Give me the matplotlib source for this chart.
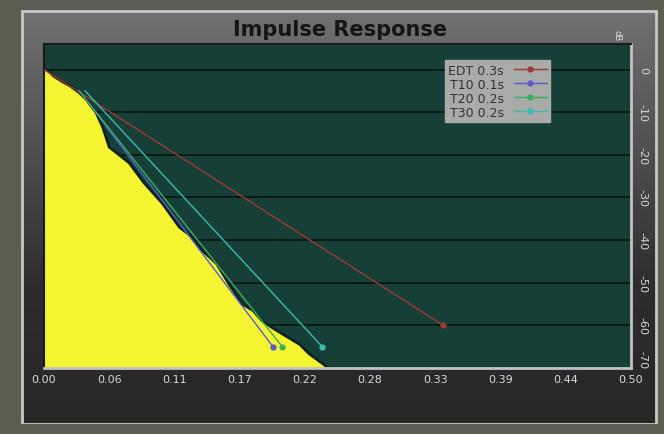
import matplotlib
matplotlib.use("Agg")
import matplotlib.pyplot as plt
import numpy as np
from matplotlib.patches import Rectangle
from matplotlib.colors import LinearSegmentedColormap

# Decay curve (time s, level dB)
decay_t = [0.0, 0.0026, 0.008, 0.0154, 0.022, 0.030, 0.036, 0.0444, 0.050, 0.0556,
           0.064, 0.0726, 0.085, 0.1009, 0.1154, 0.125, 0.135, 0.147, 0.158,
           0.169, 0.178, 0.186, 0.197, 0.209, 0.218, 0.226, 0.238, 0.242]
decay_db = [0.0, 0.0, -1.5, -2.8, -3.8, -5.4, -7.0, -10.1, -13.5, -18.2,
            -20.0, -21.9, -26.5, -31.4, -37.0, -39.0, -42.5, -45.5, -50.5,
            -55.0, -56.5, -59.0, -61.0, -63.0, -64.5, -66.7, -69.1, -70.0]

# Fitted lines: (start_t, start_db, end_t, end_db)
fit_names = ["EDT 0.3s", "T10 0.1s", "T20 0.2s", "T30 0.2s"]
fit_t0 = [0.0, 0.030, 0.030, 0.035]
fit_db0 = [0.0, -5.0, -5.0, -5.0]
fit_t1 = [0.340, 0.195, 0.203, 0.237]
fit_db1 = [-60.0, -65.0, -65.0, -65.0]
fit_colors = ["#9c3a34", "#5a5ad0", "#3cae60", "#3cbcb0"]

xticks = np.linspace(0, 0.5, 10)
xticklabels = ["0.00", "0.06", "0.11", "0.17", "0.22", "0.28", "0.33", "0.39", "0.44", "0.50"]
yticks = [0, -10, -20, -30, -40, -50, -60, -70]

W, H = 664, 435
fig = plt.figure(figsize=(W / 100, H / 100), dpi=100)
fig.patch.set_facecolor("#5c5c50")

# panel
bg = fig.add_axes([0, 0, 1, 1])
bg.set_xlim(0, W); bg.set_ylim(H, 0); bg.axis("off")
grad = np.linspace(0, 1, 200)[:, None]
cm = LinearSegmentedColormap.from_list("p", ["#707070", "#505050", "#2e2c2c", "#282626"])
bg.imshow(grad, extent=(22, 656, 425, 12), cmap=cm, aspect="auto", zorder=1)
bg.add_patch(Rectangle((22, 12), 634, 413, fill=False, ec="#c8c8c8", lw=2, zorder=2))
bg.add_patch(Rectangle((0, 425), 664, 10, fc="#5c5c50", ec="none", zorder=3))
bg.text(340, 30, "Impulse Response", ha="center", va="center", fontsize=15,
        fontweight="bold", color="#151515", zorder=4)
bg.text(617, 36, "dB", ha="center", va="center", fontsize=6, color="#dddddd",
        rotation=-90, zorder=4)

ax = fig.add_axes([44 / W, 1 - 369 / H, (631 - 44) / W, (369 - 45) / H])
ax.set_facecolor("#163f37")
ax.set_xlim(0, 0.5)
ax.set_ylim(-70, 6)

for y in yticks[:-1]:
    ax.axhline(y, color="#0a1a16", lw=1.4, zorder=1)

ax.fill_between(decay_t, decay_db, -75, color="#f4f431", lw=0, zorder=2)
ax.plot(decay_t, decay_db, color="#10241e", lw=2.0, zorder=2.5)

handles = []
for n, a, b, c, d, col in zip(fit_names, fit_t0, fit_db0, fit_t1, fit_db1, fit_colors):
    ax.plot([a, c], [b, d], color=col, lw=1.0, zorder=3)
    ax.plot([c], [d], "o", color=col, ms=3.5, zorder=3)
    h, = ax.plot([], [], color=col, lw=1.0, marker="o", ms=3.5, label=n)
    handles.append(h)

leg = ax.legend(handles=handles, loc="upper left", bbox_to_anchor=(0.672, 0.97),
                fontsize=9, frameon=True, fancybox=False, handlelength=2.6,
                labelspacing=0.08, borderpad=0.3, markerfirst=False,
                handletextpad=0.8)
leg.get_frame().set_facecolor("#a9aba8")
leg.get_frame().set_edgecolor("#a9aba8")
leg.get_frame().set_alpha(1)
for t in leg.get_texts():
    t.set_color("#333333")

ax.set_xticks(xticks)
ax.set_xticklabels(xticklabels, fontsize=8, color="#d8d8e0")
ax.yaxis.tick_right()
ax.set_yticks(yticks)
ylabels = ax.set_yticklabels([str(v) for v in yticks], fontsize=8, color="#d8d8d8",
                             rotation=-90, va="center")
ylabels[-1].set_va("bottom")
ax.tick_params(length=0, pad=4)
ax.tick_params(axis="y", pad=5)
for s in ["top", "left"]:
    ax.spines[s].set_color("#1a1a1a")
    ax.spines[s].set_linewidth(1.5)
for s in ["bottom", "right"]:
    ax.spines[s].set_color("#c0c4c4")
    ax.spines[s].set_linewidth(2)

fig.savefig("out.png", dpi=100, facecolor=fig.get_facecolor())
